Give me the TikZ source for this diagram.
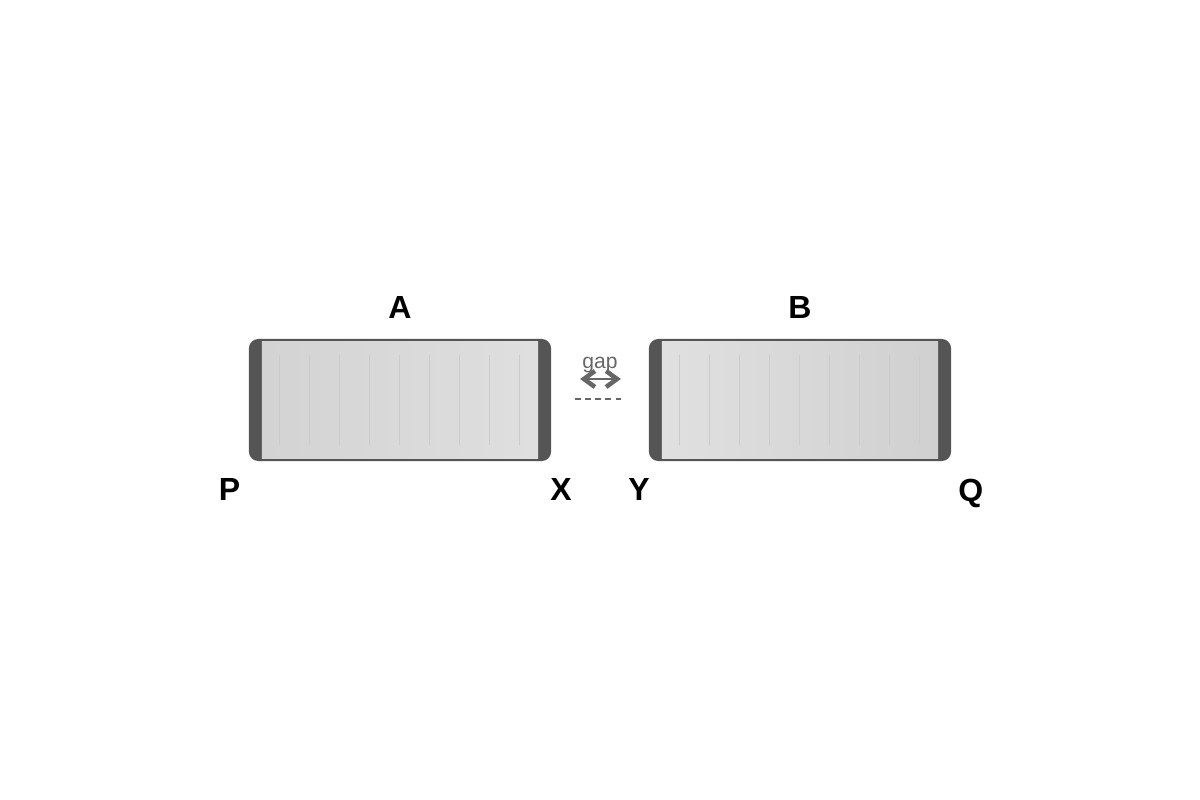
\documentclass[tikz,border=0pt]{standalone}
\usepackage{fontspec}
\setmainfont{Liberation Sans}
\usetikzlibrary{positioning,calc,arrows.meta}

\definecolor{barDark}{RGB}{85,85,85}
\definecolor{ribGray}{RGB}{203,203,203}
\definecolor{gapGray}{RGB}{102,102,102}

\tikzset{
	bar/.style={draw=barDark,fill=barDark,line width=0.03cm,rounded corners=0.08cm,
		minimum width=2.99cm,minimum height=1.19cm,inner sep=0pt,outer sep=0pt},
	rib/.style={draw=ribGray,line width=0.011cm},
	lbl/.style={font=\fontsize{9.1}{11}\selectfont\bfseries,inner sep=0pt},
	gaplbl/.style={font=\fontsize{6}{7}\selectfont,text=gapGray,inner sep=0pt},
	gaparrow/.style={draw=gapGray,line width=0.02cm,
		{Straight Barb[length=0.11cm,width=0.16cm,line width=0.045cm]}-{Straight Barb[length=0.11cm,width=0.16cm,line width=0.045cm]}},
	gapline/.style={draw=gapGray,line width=0.015cm,dash pattern=on 0.056cm off 0.045cm},
}

\begin{document}
\begin{tikzpicture}[x=0.01cm,y=-0.01cm]
	\useasboundingbox (0,0) rectangle (1200,800);
	%% bar A
	\node[bar] (A) at (400,400) {};
	\shade[left color={rgb,255:red,211;green,211;blue,211},right color={rgb,255:red,223;green,223;blue,223}]
		($(A.north west)+(11.5,1.5)$) rectangle ($(A.south east)+(-11.5,-1.5)$);
	\foreach \dx in {30,60,...,270}
		\draw[rib] ($(A.west)+(\dx-0.5,-45)$) -- ++(0,90);
	%% bar B
	\node[bar] (B) at (800,400) {};
	\shade[left color={rgb,255:red,224;green,224;blue,224},right color={rgb,255:red,208;green,208;blue,208}]
		($(B.north west)+(11.5,1.5)$) rectangle ($(B.south east)+(-11.5,-1.5)$);
	\foreach \dx in {30,60,...,270}
		\draw[rib] ($(B.west)+(\dx-0.5,-45)$) -- ++(0,90);
	% labels
	\node[lbl,above=0.21cm of A] (lA) {A};
	\node[lbl,above=0.21cm of B] (lB) {B};
	\node[lbl,below left=0.185cm and 0.095cm of A.south west] (P) {P};
	\node[lbl,below right=0.185cm and 0cm of A.south east] (X) {X};
	\node[lbl,below left=0.185cm and 0cm of B.south west] (Y) {Y};
	\node[lbl,below right=0.185cm and 0.08cm of B.south east] (Q) {Q};
	% gap
	\node[gaplbl] (gap) at (600,365) {gap};
	\coordinate[above right=0.21cm and 0.305cm of A.east] (g1);
	\coordinate[above left=0.21cm and 0.295cm of B.west] (g2);
	\draw[gaparrow] (g1) -- (g2);
	\coordinate[above right=0.01cm and 0.255cm of A.east] (d1);
	\coordinate[above left=0.01cm and 0.295cm of B.west] (d2);
	\draw[gapline] (d1) -- (d2);
\end{tikzpicture}
\end{document}
